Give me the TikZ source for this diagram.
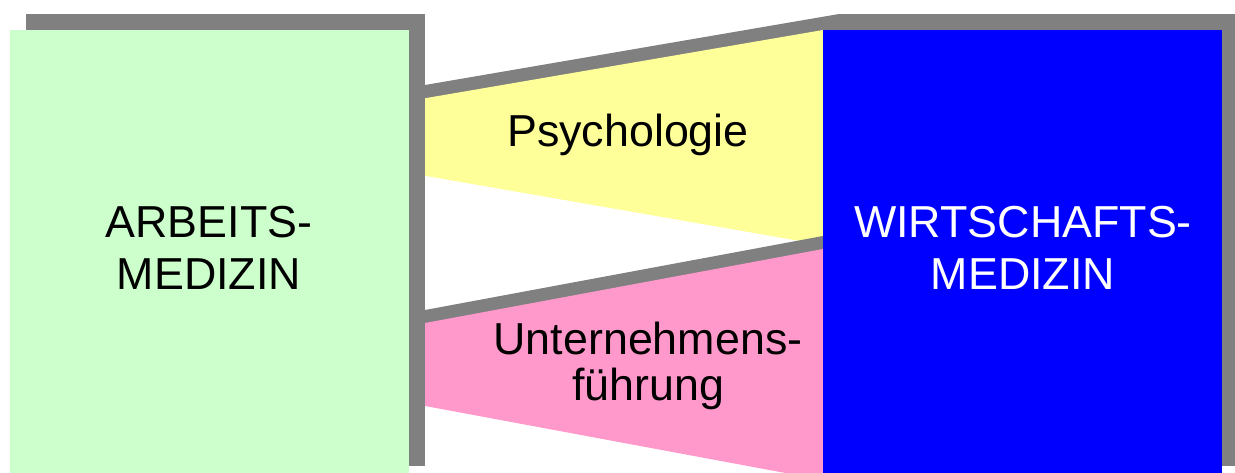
\documentclass[tikz,border=0pt]{standalone}
\usepackage{fontspec}
\setmainfont{Liberation Sans}
\usepackage{xcolor}
\usetikzlibrary{positioning}
\definecolor{shadegray}{HTML}{808080}
\definecolor{arbgreen}{HTML}{CCFFCC}
\definecolor{wirtblue}{HTML}{0000FF}
\definecolor{psyyellow}{HTML}{FFFF99}
\definecolor{uftpink}{HTML}{FF99CC}

\begin{document}
\begin{tikzpicture}[x=0.02cm, y=-0.02cm,
		blk/.style={inner sep=0pt, outer sep=0pt, minimum width=7.98cm, minimum height=9.04cm, anchor=north west},
		shd/.style={fill=shadegray, shift={(16,-16)}},
		lbl/.style={font=\fontsize{25.5}{30}\selectfont, align=center, inner sep=0pt}]
		\useasboundingbox (0,0) rectangle (1235,473);
		\clip (0,0) rectangle (1235,473);
		% bands between the two blocks
		\fill[shd] (409,101) -- (823,30) -- (823,245) -- (409,173) -- cycle;
		\fill[psyyellow] (409,101) -- (823,30) -- (823,245) -- (409,173) -- cycle;
		\fill[shd] (409,326) -- (823,249) -- (823,480) -- (409,403) -- cycle;
		\fill[uftpink] (409,326) -- (823,249) -- (823,480) -- (409,403) -- cycle;
		% blocks
		\node[blk, shd] (arbshd) at (10,30) {};
		\node[blk, fill=arbgreen] (arbeit) at (10,30) {};
		\node[blk, shd] (wirtshd) at (823,30) {};
		\node[blk, fill=wirtblue] (wirt) at (823,30) {};
		% labels
		\node[lbl] (arbtxt) at (209,248) {ARBEITS-\\MEDIZIN};
		\node[lbl, text=white] (wirttxt) at (1023,248) {WIRTSCHAFTS-\\MEDIZIN};
		\node[lbl, anchor=base] (psytxt) at (628,147) {Psychologie};
		\node[lbl, font=\fontsize{25.5}{26}\selectfont] (ufttxt) at (648,366) {Unternehmens-\\führung};
	\end{tikzpicture}
\end{document}
